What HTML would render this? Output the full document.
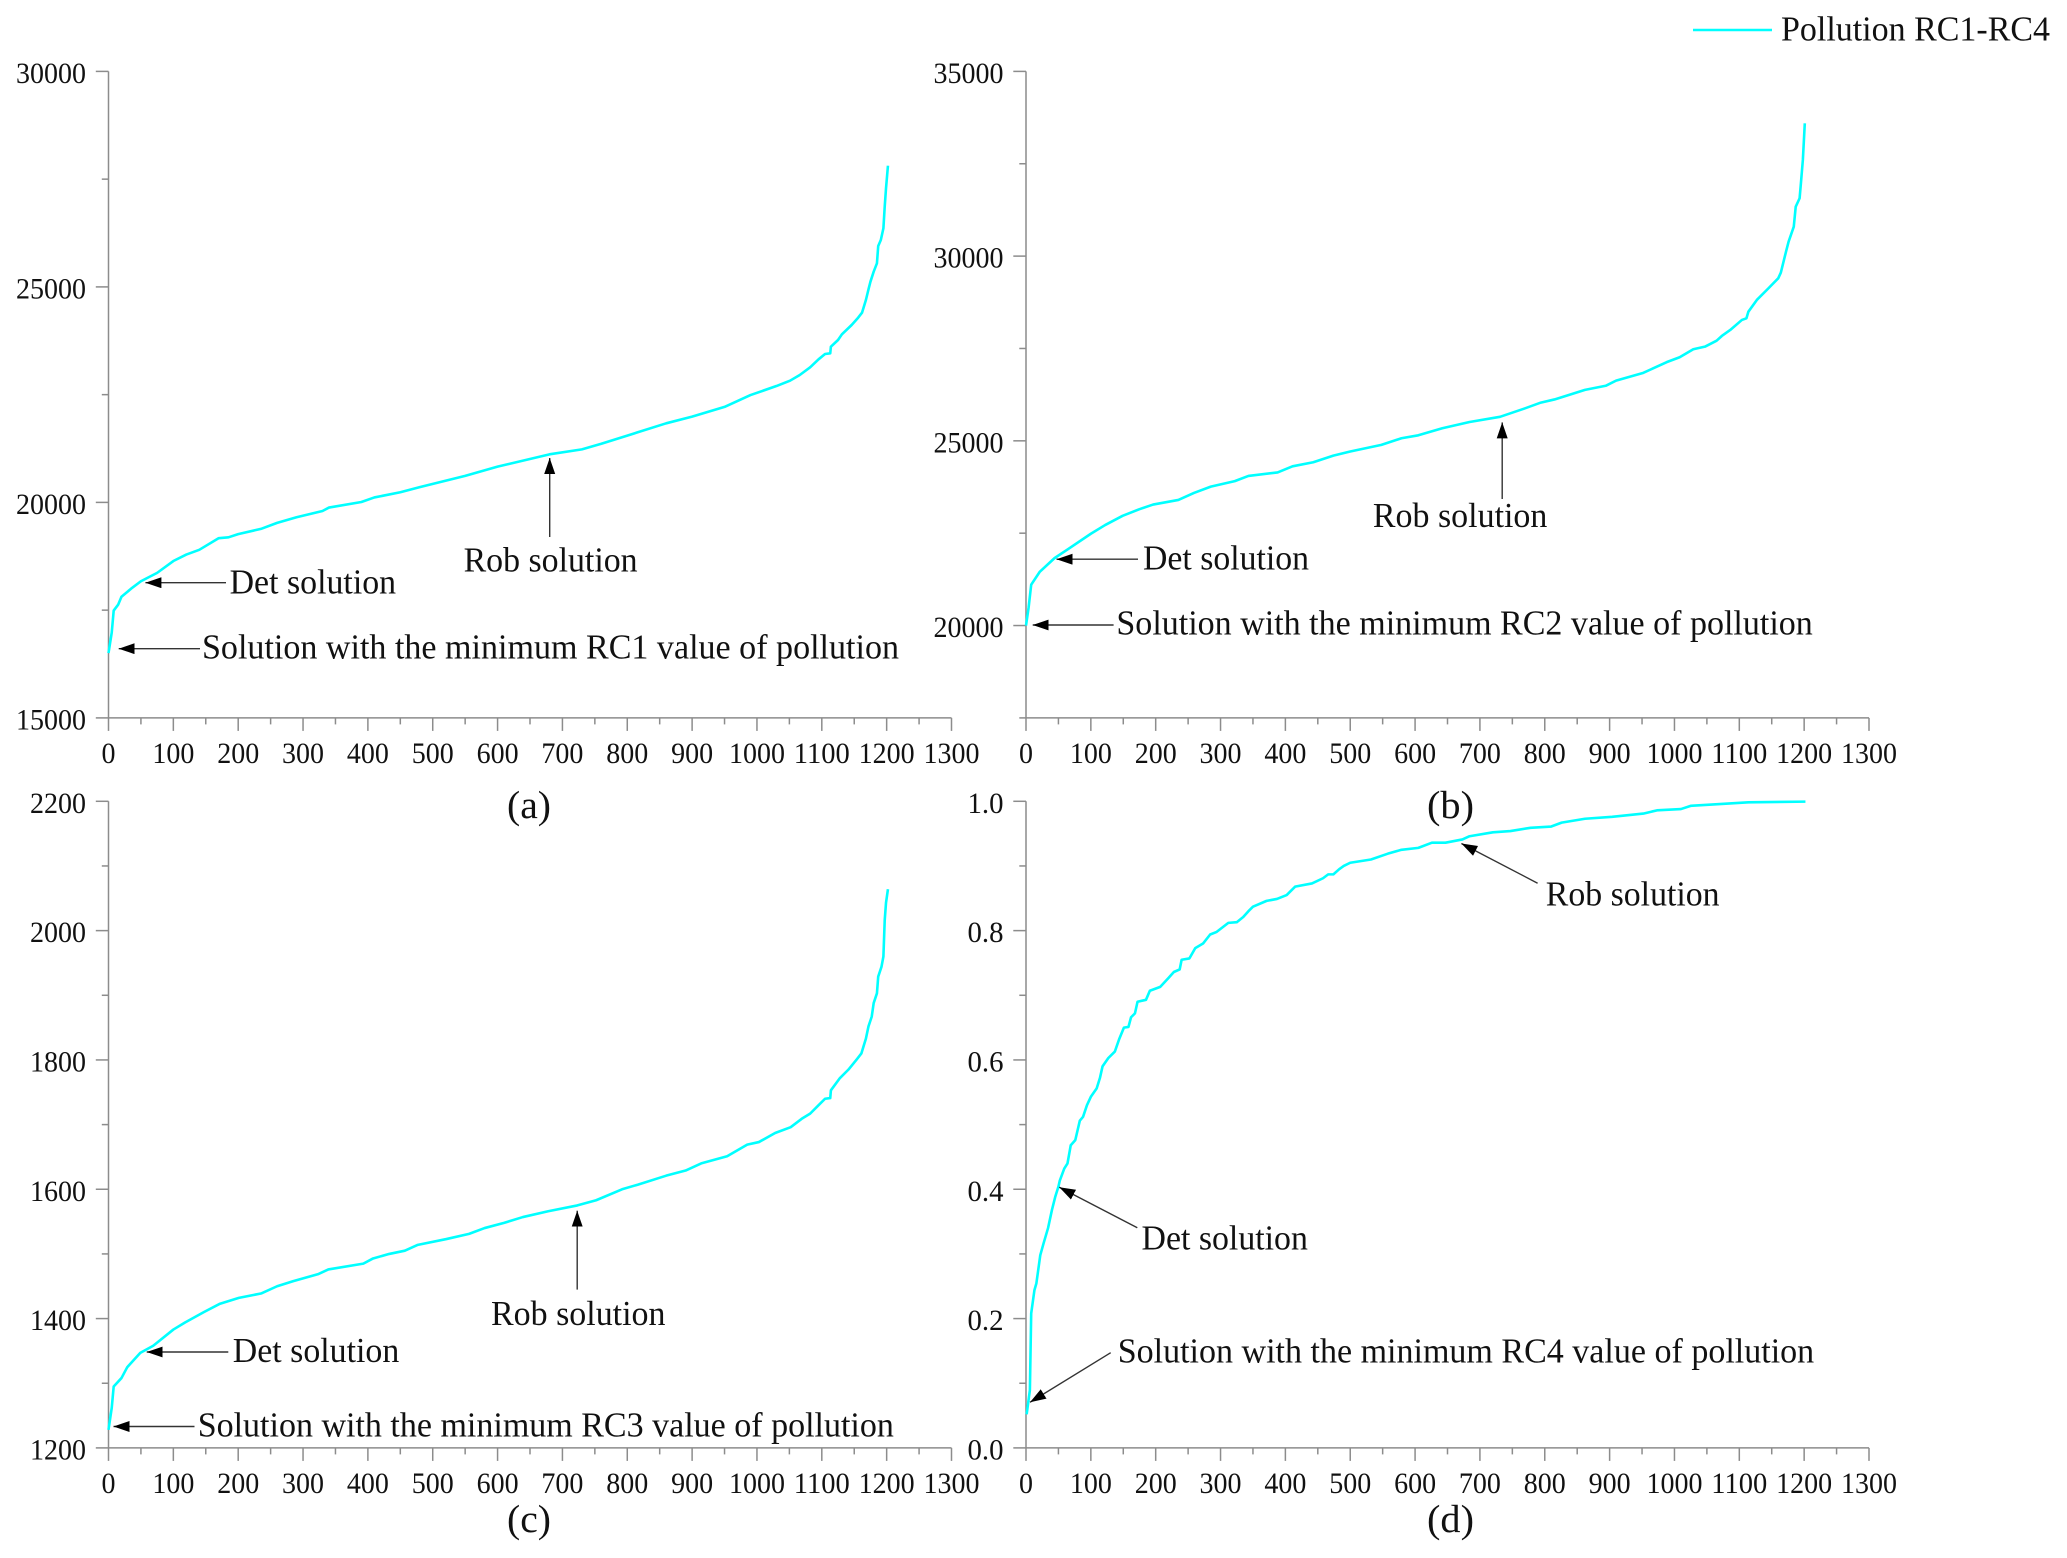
<!DOCTYPE html>
<html lang="en">
<head>
<meta charset="utf-8">
<title>Pollution RC1-RC4 solutions</title>
<style>
html,body{margin:0;padding:0;background:#fff;}
svg{display:block;}
text{font-family:"Liberation Serif",serif;fill:#111;}
.note{font-size:34.5px;}
.plabel{font-size:39px;}
.lead{stroke:#333;stroke-width:1.4;fill:none;}
</style>
</head>
<body>
<svg id="chart" width="2067" height="1558" viewBox="0 0 2067 1558" xmlns="http://www.w3.org/2000/svg">
<defs>
<marker id="arrowhead" markerUnits="userSpaceOnUse" markerWidth="18" markerHeight="12" refX="16" refY="5.5" orient="auto"><polygon points="0,0 16,5.5 0,11" fill="#000"/></marker>
</defs>
<rect width="2067" height="1558" fill="#fff"/>
<g id="axes-layer"></g>
<g id="series-layer"></g>

<g>
<line x1="1693" y1="30" x2="1772" y2="30" stroke="#00ffff" stroke-width="2.6"/>
<text x="1781" y="40.7" font-size="34.5" textLength="269" lengthAdjust="spacingAndGlyphs">Pollution RC1-RC4</text>
</g>

<g>
<line class="lead" x1="549.7" y1="537" x2="549.7" y2="458" marker-end="url(#arrowhead)"/>
<text class="note" x="463.6" y="571.5" textLength="174" lengthAdjust="spacingAndGlyphs">Rob solution</text>
<line class="lead" x1="226" y1="582.7" x2="145.4" y2="582.7" marker-end="url(#arrowhead)"/>
<text class="note" x="229.6" y="593.5" textLength="166.5" lengthAdjust="spacingAndGlyphs">Det solution</text>
<line class="lead" x1="200" y1="648.7" x2="118.7" y2="648.7" marker-end="url(#arrowhead)"/>
<text class="note" x="202" y="658.5" textLength="697" lengthAdjust="spacingAndGlyphs">Solution with the minimum RC1 value of pollution</text>
<text class="plabel" x="507" y="818" textLength="44" lengthAdjust="spacingAndGlyphs">(a)</text>
</g>

<g>
<line class="lead" x1="1502.2" y1="499" x2="1502.2" y2="422.4" marker-end="url(#arrowhead)"/>
<text class="note" x="1372.9" y="527" textLength="174.5" lengthAdjust="spacingAndGlyphs">Rob solution</text>
<line class="lead" x1="1138" y1="559.2" x2="1056.5" y2="559.2" marker-end="url(#arrowhead)"/>
<text class="note" x="1143" y="569.5" textLength="166" lengthAdjust="spacingAndGlyphs">Det solution</text>
<line class="lead" x1="1113.6" y1="625" x2="1032.7" y2="625" marker-end="url(#arrowhead)"/>
<text class="note" x="1116.4" y="634.5" textLength="696.4" lengthAdjust="spacingAndGlyphs">Solution with the minimum RC2 value of pollution</text>
<text class="plabel" x="1427" y="818" textLength="47" lengthAdjust="spacingAndGlyphs">(b)</text>
</g>

<g>
<line class="lead" x1="577.2" y1="1289.6" x2="577.2" y2="1210.7" marker-end="url(#arrowhead)"/>
<text class="note" x="491" y="1324.8" textLength="174.5" lengthAdjust="spacingAndGlyphs">Rob solution</text>
<line class="lead" x1="228.3" y1="1352" x2="146.7" y2="1352" marker-end="url(#arrowhead)"/>
<text class="note" x="232.8" y="1362" textLength="166.5" lengthAdjust="spacingAndGlyphs">Det solution</text>
<line class="lead" x1="194.5" y1="1426.5" x2="113.5" y2="1426.5" marker-end="url(#arrowhead)"/>
<text class="note" x="197.7" y="1436.5" textLength="696.2" lengthAdjust="spacingAndGlyphs">Solution with the minimum RC3 value of pollution</text>
<text class="plabel" x="507" y="1532" textLength="44" lengthAdjust="spacingAndGlyphs">(c)</text>
</g>

<g>
<line class="lead" x1="1537.6" y1="883.2" x2="1461.4" y2="843.5" marker-end="url(#arrowhead)"/>
<text class="note" x="1545.8" y="905.5" textLength="173.8" lengthAdjust="spacingAndGlyphs">Rob solution</text>
<line class="lead" x1="1137.3" y1="1227.7" x2="1059.3" y2="1187.3" marker-end="url(#arrowhead)"/>
<text class="note" x="1141.5" y="1249.5" textLength="166.4" lengthAdjust="spacingAndGlyphs">Det solution</text>
<line class="lead" x1="1110.7" y1="1352.7" x2="1030" y2="1402.3" marker-end="url(#arrowhead)"/>
<text class="note" x="1117.7" y="1362.5" textLength="696.5" lengthAdjust="spacingAndGlyphs">Solution with the minimum RC4 value of pollution</text>
<text class="plabel" x="1427" y="1532" textLength="47" lengthAdjust="spacingAndGlyphs">(d)</text>
</g>
</svg>

<script>
var xTickLabels = [0,100,200,300,400,500,600,700,800,900,1000,1100,1200,1300];
var yTicksA = [15000,20000,25000,30000];
var yTicksB = [20000,25000,30000,35000];
var yTicksC = [1200,1400,1600,1800,2000,2200];
var yTicksD = [0,0.2,0.4,0.6,0.8,1.0];

var runsA = [0,5,8,15,20,35,50,75,100,120,140,170,185,200,235,260,290,330,340,390,410,450,480,550,600,680,730,760,800,860,900,950,990,1030,1051,1066,1082,1095,1105,1113,1114,1125,1131,1146,1156,1162,1168,1172,1175,1180,1185,1187,1191,1195,1197,1199,1202];
var pollutionA = [16505,16980,17490,17630,17810,18000,18170,18365,18640,18790,18900,19170,19190,19265,19385,19525,19655,19800,19880,20010,20115,20235,20355,20615,20830,21115,21230,21360,21550,21835,21990,22215,22490,22700,22824,22956,23134,23320,23443,23459,23613,23768,23900,24116,24285,24401,24696,24944,25121,25353,25547,25949,26088,26360,26861,27288,27812];

var runsB = [0,4,8,21,44,65,100,122,149,175,196,235,259,285,322,343,388,411,443,474,500,548,579,605,642,684,731,768,794,815,862,894,910,952,988,1008,1029,1047,1065,1073,1086,1104,1111,1114,1127,1145,1160,1164,1172,1176,1184,1187,1193,1195,1198,1201];
var pollutionB = [20000,20483,21105,21450,21825,22070,22485,22720,22970,23150,23275,23400,23590,23760,23910,24050,24145,24310,24420,24600,24710,24890,25070,25150,25340,25510,25650,25870,26035,26120,26380,26490,26630,26840,27130,27262,27478,27549,27711,27838,28001,28272,28317,28496,28813,29130,29400,29552,30120,30391,30797,31338,31566,31972,32603,33596];

var runsC = [0,5,8,20,29,49,69,100,118,147,172,201,236,260,285,324,339,393,408,433,457,477,521,556,580,610,639,678,723,752,792,816,860,890,914,954,985,1003,1028,1052,1069,1082,1095,1105,1113,1114,1128,1141,1154,1161,1168,1172,1177,1180,1185,1187,1192,1195,1197,1199,1202];
var pollutionC = [1228,1262,1295,1308,1325,1347,1358,1383,1394,1410,1423,1432,1439,1450,1458,1469,1476,1485,1493,1500,1505,1514,1523,1531,1540,1548,1557,1566,1575,1583,1600,1607,1621,1629,1640,1651,1669,1673,1687,1696,1709,1717,1730,1740,1741,1753,1772,1785,1801,1810,1833,1852,1867,1888,1903,1929,1944,1960,2016,2043,2064];

var runsD = [1,6,8,13,16,22,27,34,40,45,50,52,59,64,69,76,83,88,94,100,109,114,118,127,137,144,151,158,162,168,172,185,191,207,219,228,237,240,252,261,273,284,294,312,325,335,343,350,371,387,402,415,441,458,466,474,483,490,500,532,558,579,605,626,647,673,684,720,747,778,810,826,862,904,952,973,1010,1025,1073,1114,1202];
var pollutionD = [0.052,0.0895,0.208,0.244,0.2545,0.298,0.316,0.34,0.368,0.388,0.404,0.413,0.432,0.44,0.468,0.476,0.506,0.512,0.53,0.543,0.556,0.572,0.59,0.603,0.613,0.633,0.65,0.651,0.666,0.672,0.69,0.693,0.707,0.713,0.726,0.736,0.74,0.755,0.757,0.773,0.78,0.794,0.798,0.812,0.813,0.821,0.83,0.837,0.846,0.849,0.855,0.868,0.873,0.881,0.887,0.887,0.895,0.9,0.905,0.91,0.919,0.925,0.928,0.936,0.936,0.941,0.946,0.952,0.954,0.959,0.961,0.967,0.973,0.976,0.981,0.986,0.988,0.993,0.996,0.9985,0.9995];

var NS = 'http://www.w3.org/2000/svg';
var AXIS_COLOR = '#8c8c8c';
var axesLayer = document.getElementById('axes-layer');
var seriesLayer = document.getElementById('series-layer');

function line(parent, x1, y1, x2, y2) {
  var el = document.createElementNS(NS, 'line');
  el.setAttribute('x1', x1);
  el.setAttribute('y1', y1);
  el.setAttribute('x2', x2);
  el.setAttribute('y2', y2);
  el.setAttribute('stroke', AXIS_COLOR);
  el.setAttribute('stroke-width', '1.5');
  parent.appendChild(el);
  return el;
}

function label(parent, str, x, y, anchor, width) {
  var el = document.createElementNS(NS, 'text');
  el.textContent = str;
  el.setAttribute('x', x);
  el.setAttribute('y', y);
  el.setAttribute('text-anchor', anchor);
  el.setAttribute('font-size', '29.5');
  el.setAttribute('textLength', width);
  el.setAttribute('lengthAdjust', 'spacingAndGlyphs');
  parent.appendChild(el);
  return el;
}

function tickWidth(str) {
  if (str.indexOf('.') >= 0) return 36;
  return str.length * 14;
}

function drawPanel(key, left, right, top, bottom, yMin, yMax, yTicks, yLabelDigits, xs, ys) {
  function xScale(v) { return left + (v - 0) / 1300 * (right - left); }
  function yScale(v) { return bottom - (v - yMin) / (yMax - yMin) * (bottom - top); }

  var g = document.createElementNS(NS, 'g');
  
  
  axesLayer.appendChild(g);

  var xAxis = line(g, left, bottom, right, bottom);
  
  
  var yAxis = line(g, left, top, left, bottom);
  
  

  xTickLabels.forEach(function (v, i) {
    var px = xScale(v);
    var tick = line(g, px, bottom, px, bottom + 13);
    
    
    var s = String(v);
    var t = label(g, s, px, bottom + 45, 'middle', tickWidth(s));
    
    
    if (i < xTickLabels.length - 1) {
      var mp = xScale((v + xTickLabels[i + 1]) / 2);
      var minor = line(g, mp, bottom, mp, bottom + 6.5);
      
      
    }
  });

  yTicks.forEach(function (v, i) {
    var py = yScale(v);
    var tick = line(g, left - 12.7, py, left, py);
    
    
    var s = yLabelDigits ? v.toFixed(yLabelDigits) : String(v);
    var t = label(g, s, left - 22.5, py + 11.5, 'end', tickWidth(s));
    
    
    if (i < yTicks.length - 1) {
      var mp = yScale((v + yTicks[i + 1]) / 2);
      var minor = line(g, left - 6.7, mp, left, mp);
      
      
    }
  });
  if (yTicks[0] > yMin) {
    var low = line(g, left - 6.7, yScale(yMin), left, yScale(yMin));
    
    
  }

  var d = xs.map(function (v, i) {
    return (i ? 'L' : 'M') + xScale(v).toFixed(2) + ' ' + yScale(ys[i]).toFixed(2);
  }).join(' ');
  var path = document.createElementNS(NS, 'path');
  path.setAttribute('d', d);
  path.setAttribute('fill', 'none');
  path.setAttribute('stroke', '#00ffff');
  path.setAttribute('stroke-width', '2.6');
  path.setAttribute('stroke-linejoin', 'round');
  
  
  seriesLayer.appendChild(path);
}

drawPanel('a', 108.5, 951.5, 71.4, 717.9, 15000, 30000, yTicksA, 0, runsA, pollutionA);
drawPanel('b', 1026, 1869, 71.4, 717.9, 17500, 35000, yTicksB, 0, runsB, pollutionB);
drawPanel('c', 108.5, 951.5, 801.3, 1447.9, 1200, 2200, yTicksC, 0, runsC, pollutionC);
drawPanel('d', 1026, 1869, 801.3, 1447.9, 0, 1, yTicksD, 1, runsD, pollutionD);
</script>
</body>
</html>
